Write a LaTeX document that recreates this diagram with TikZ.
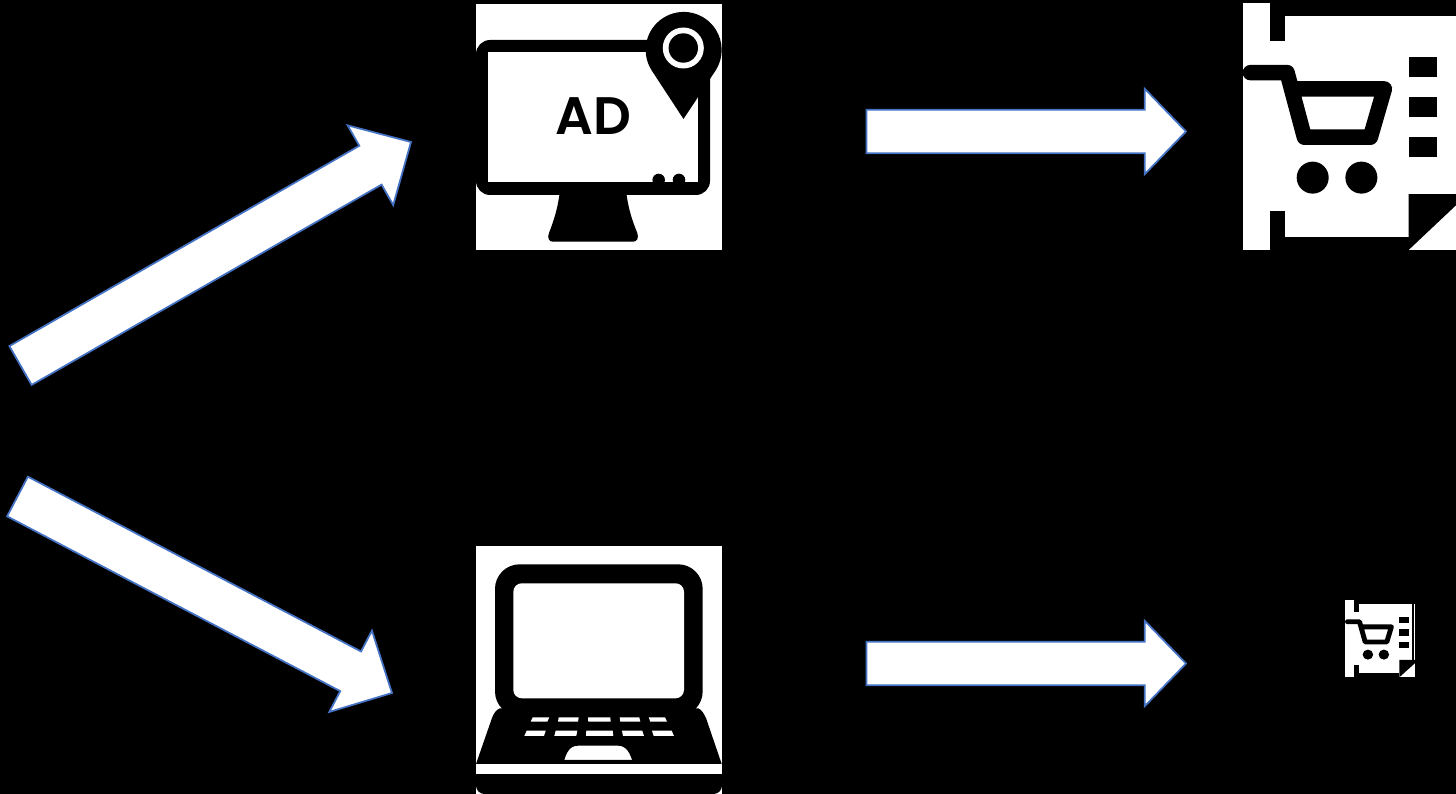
\documentclass[tikz,border=0pt]{standalone}
\usepackage{fontspec}
\setsansfont{Poppins}[BoldFont=* SemiBold]
\usetikzlibrary{calc,shapes.arrows}
\definecolor{arrowline}{RGB}{68,114,196}
\tikzset{
  iconbox/.style={fill=white, draw=none, inner sep=0pt, outer sep=0pt},
  fatarr/.style={single arrow, fill=white, draw=arrowline, line width=0.5pt, inner sep=0pt, outer sep=0pt,
                 text height=0.415cm, text depth=0pt, single arrow head extend=0.21cm, single arrow head indent=0pt,
                 single arrow tip angle=92},
  diagarr/.style={fatarr, text height=0.43cm, single arrow head extend=0.235cm, single arrow tip angle=89},
  pics/cartdoc/.style={code={
    \fill[black] (27.7,0) rectangle (42,37.7);
    \fill[black] (27.7,0) rectangle (213.7,12.7);
    \fill[black] (27.7,207.7) rectangle (42,247);
    \fill[black] (27.7,233.7) rectangle (166,247);
    \fill[black] (166,191.3) -- (213.7,191.3) -- (213.7,202) -- (166,247) -- cycle;
    \draw[black, line width=#1, line cap=round, line join=round]
      (7.7,69.7) -- (44.4,69.7) -- (61.7,134.3) -- (127.7,134.3) -- (141.7,86) -- (49.4,86);
    \fill[black] (70,174.7) circle (16);
    \fill[black] (118.7,174.7) circle (16);
    \foreach \ky in {54.3,94,133.7}
      \fill[black] (166,\ky) rectangle (194,\ky+20);
  }},
}
\newcommand{\fatarrow}[4]{%
  \path let \p1=($(#3)-(#2)$), \n1={atan2(\y1,\x1)}, \n2={veclen(\x1,\y1)} in
    node[#1, anchor=tail, rotate=\n1, minimum height=\n2] (#4) at (#2) {};
}

\begin{document}
\begin{tikzpicture}[x=0.01cm,y=-0.01cm]
  \useasboundingbox (0,0) rectangle (1456,794);
  \fill[black] (0,0) rectangle (1456,794);

  % icons
  \node[iconbox, minimum width=2.46cm, minimum height=2.46cm] (monitor) at (599,127) {};
  \node[iconbox, minimum width=2.46cm, minimum height=2.48cm] (laptop) at (599,670) {};
  \node[iconbox, minimum width=2.137cm, minimum height=2.47cm] (cartbig) at (1349.6,126.5) {};
  \node[iconbox, minimum width=0.70cm, minimum height=0.773cm] (cartsmall) at (1380,638.6) {};

  % monitor
  \fill[black, rounded corners=4pt] (476,40) rectangle (710,195);
  \fill[white] (488,52) rectangle (698,182);
  \fill[black] (560,190) -- (626,190) .. controls (628,208) and (632,220) .. (637.3,233)
    .. controls (639,238) and (637,241.7) .. (633,241.7) -- (553,241.7)
    .. controls (549,241.7) and (547,238) .. (549,233) .. controls (554,220) and (558,208) .. (560,190) -- cycle;
  \fill[black] (658.7,180) circle (6.3);
  \fill[black] (679,180) circle (6.3);
  \fill[black] (683.5,119) -- (651.6,70.3) arc[start angle=147.6, end angle=392.4, radius=38] -- cycle;
  \fill[white] (683.3,48) circle (20.5);
  \fill[black] (683.3,48) circle (14.7);
  \node[font=\sffamily\bfseries, text=black, inner sep=0pt] (adtext) at (593.3,116) {\fontsize{15}{15}\selectfont AD};

  % laptop
  \fill[black] (500,708.3) -- (698.3,708.3) .. controls (702,710) and (704,714) .. (706,718) -- (721.7,764)
    -- (633.3,764) .. controls (630,752) and (626,745.7) .. (618,745.7) -- (578,745.7)
    .. controls (570,745.7) and (566,752) .. (563.3,764) -- (476,764) -- (492,718) .. controls (494,713) and (496,710) .. (500,708.3) -- cycle;
  \fill[black, rounded corners=7pt] (495,564.3) rectangle (702.7,716);
  \fill[white, rounded corners=2.4pt] (513.3,583.3) rectangle (684,698.3);
  \foreach \ka/\kb/\kc/\kd in {532.7/549.3/547.3/530.7, 558.7/578.7/578/558, 588/610.3/610.7/588.3, 619.7/639.3/640.3/620.3, 648.7/665/667/650.3}
    \fill[white] (\ka,717.3) -- (\kb,717.3) -- (\kc,721.7) -- (\kd,721.7) -- cycle;
  \foreach \ka/\kb/\kc/\kd in {526.7/545.7/544/524.3, 555.7/577.3/576.3/554.3, 586.3/612.7/613.3/586, 622/642.3/644/623, 652/671.7/674/653.7}
    \fill[white] (\ka,730.7) -- (\kb,730.7) -- (\kc,736) -- (\kd,736) -- cycle;
  \fill[black, rounded corners=2.4pt] (476,760) -- (476,794) -- (722,794) -- (722,760) -- cycle;
  \fill[white] (476,764) rectangle (722,774);

  % carts
  \pic at (cartbig.north west) {cartdoc=4.4pt};
  \pic[xscale=0.3276, yscale=0.313] at (cartsmall.north west) {cartdoc=1.4pt};
  \fill[black] (1412,600) rectangle (1414,661);

  % arrows
  \coordinate (uptail) at (20.5,365.5);
  \coordinate (uptip) at (411,142);
  \coordinate (downtail) at (17.5,496.5);
  \coordinate (downtip) at (392,693);
  \coordinate (adtail) at (866.5,131.5);
  \coordinate (adtip) at (1186,131.5);
  \coordinate (webtail) at (866.5,663.5);
  \coordinate (webtip) at (1186,663.5);
  \fatarrow{diagarr}{uptail}{uptip}{arrowup}
  \fatarrow{diagarr}{downtail}{downtip}{arrowdown}
  \fatarrow{fatarr}{adtail}{adtip}{arrowad}
  \fatarrow{fatarr}{webtail}{webtip}{arrowweb}
\end{tikzpicture}
\end{document}
